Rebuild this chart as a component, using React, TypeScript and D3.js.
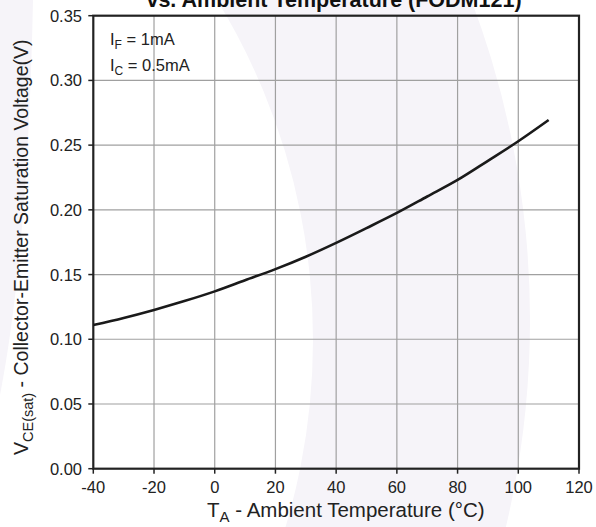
import React from "react";
import * as d3 from "d3";

const temps = [-40, -30, -20, -10, 0, 10, 20, 30, 40, 50, 60, 70, 80, 90, 100, 110];
const vce = [0.111, 0.1165, 0.1227, 0.1295, 0.137, 0.1456, 0.1542, 0.1638, 0.1745, 0.1859, 0.1976, 0.2103, 0.2231, 0.2379, 0.253, 0.2694];
const xTicks = [-40, -20, 0, 20, 40, 60, 80, 100, 120];
const yTicks = [0, 0.05, 0.1, 0.15, 0.2, 0.25, 0.3, 0.35];

const W = 596;
const H = 527;
const L = 93.3, R = 579, T = 15.7, B = 468.7;
const FONT = "'Liberation Sans', Arial, Helvetica, sans-serif";

export default function App() {
  const x = d3.scaleLinear().domain([-40, 120]).range([L, R]);
  const y = d3.scaleLinear().domain([0, 0.35]).range([B, T]);
  const pts = temps.map((t, i) => [t, vce[i]] as [number, number]);
  const line = d3
    .line<[number, number]>()
    .x((d) => x(d[0]))
    .y((d) => y(d[1]))
    .curve(d3.curveMonotoneX);

  const ring = d3.path();
  ring.arc(-370, 320, 900, 0, Math.PI * 2);
  ring.closePath();
  ring.moveTo(-337 + 650, 340);
  ring.arc(-337, 340, 650, 0, Math.PI * 2);
  ring.closePath();

  const wm = "#f6f4f9";

  return (
    <svg
      width={W}
      height={H}
      style={{ position: "absolute", left: 0, top: 0, background: "#fff" }}
      fontFamily={FONT}
    >
      <rect x={0} y={0} width={W} height={H} fill="#fff" />
      <path d={ring.toString()} fill={wm} fillRule="evenodd" />
      <path d="M0,0 L33,0 Q28,250 0,395 Z" fill={wm} />

      {xTicks.slice(1, -1).map((t) => (
        <line key={"gx" + t} x1={x(t)} x2={x(t)} y1={T} y2={B} stroke="#a0a0a0" strokeWidth={1.2} />
      ))}
      {yTicks.slice(1, -1).map((t) => (
        <line key={"gy" + t} x1={L} x2={R} y1={y(t)} y2={y(t)} stroke="#a0a0a0" strokeWidth={1.2} />
      ))}

      {xTicks.map((t) => (
        <g key={"xt" + t}>
          <line x1={x(t)} x2={x(t)} y1={B} y2={B + 5} stroke="#222" strokeWidth={1.5} />
          <text x={x(t)} y={493} fontSize={16.5} textAnchor="middle" fill="#222">
            {t}
          </text>
        </g>
      ))}
      {yTicks.map((t) => (
        <g key={"yt" + t}>
          <line x1={L - 5} x2={L} y1={y(t)} y2={y(t)} stroke="#222" strokeWidth={1.5} />
          <text x={82} y={y(t) + 6} fontSize={16.5} textAnchor="end" fill="#222">
            {t.toFixed(2)}
          </text>
        </g>
      ))}

      <rect x={L} y={T} width={R - L} height={B - T} fill="none" stroke="#222" strokeWidth={2.2} />

      <path d={line(pts) || ""} fill="none" stroke="#1a1a1a" strokeWidth={2.6} />

      <text x={110} y={45} fontSize={16.5} fill="#222">
        I<tspan fontSize={12} dy={4}>F</tspan>
        <tspan dy={-4}> = 1mA</tspan>
      </text>
      <text x={110} y={71} fontSize={16.5} fill="#222">
        I<tspan fontSize={12} dy={4}>C</tspan>
        <tspan dy={-4}> = 0.5mA</tspan>
      </text>

      <text x={334} y={7} fontSize={21.5} fontWeight="bold" textAnchor="middle" fill="#111">
        vs. Ambient Temperature (FODM121)
      </text>

      <text x={207} y={516.5} fontSize={20.5} fill="#222">
        T<tspan fontSize={15} dy={5}>A</tspan>
        <tspan dy={-5}> - Ambient Temperature (°C)</tspan>
      </text>

      <text transform="translate(28,455) rotate(-90)" x={0} y={0} fontSize={19.5} fill="#222">
        V<tspan fontSize={14.5} dy={5}>CE(sat)</tspan>
        <tspan dy={-5}> - Collector-Emitter Saturation Voltage(V)</tspan>
      </text>
    </svg>
  );
}
